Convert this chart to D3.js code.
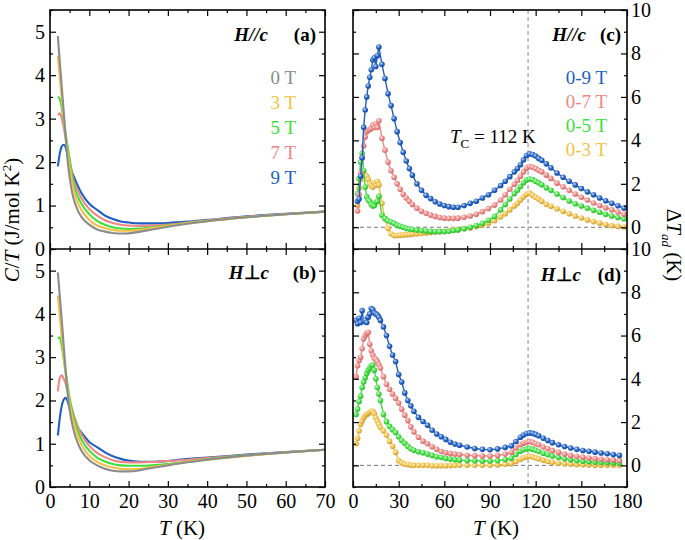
<!DOCTYPE html>
<html><head><meta charset="utf-8">
<script src="https://cdn.jsdelivr.net/npm/d3@7"></script>
<style>body{margin:0;background:#fff}</style>
</head><body><svg id="chart" width="685" height="540"></svg>
<script>
// ---------------- DATA ----------------
const leftFields  = ["0 T", "3 T", "5 T", "7 T", "9 T"];
const rightFields = ["0-9 T", "0-7 T", "0-5 T", "0-3 T"];
const xTicksLeft  = [0, 10, 20, 30, 40, 50, 60, 70];
const yTicksLeft  = [0, 1, 2, 3, 4, 5];
const xTicksRight = [0, 30, 60, 90, 120, 150, 180];
const yTicksRight = [0, 2, 4, 6, 8, 10];
const curieT = 115;

// temperature grid for the C/T curves (K)
const tempL = [2, 2.5, 3, 3.5, 4, 4.5, 5, 5.5, 6, 7, 8, 10, 12, 14, 16, 18, 20, 23, 26, 30, 35, 40, 50, 60, 70];
// (a) H//c  C/T (J/mol K^2)
const a0T = [4.9, 4.3, 3.72, 3.15, 2.55, 2.02, 1.65, 1.36, 1.16, 0.9, 0.74, 0.56, 0.45, 0.40, 0.37, 0.355, 0.36, 0.40, 0.45, 0.51, 0.58, 0.64, 0.73, 0.80, 0.86];
const a3T = [4.45, 3.95, 3.45, 3.0, 2.6, 2.22, 1.9, 1.62, 1.38, 1.08, 0.9, 0.67, 0.54, 0.48, 0.44, 0.42, 0.42, 0.44, 0.48, 0.53, 0.59, 0.64, 0.73, 0.80, 0.86];
const a5T = [3.5, 3.45, 3.25, 2.95, 2.65, 2.35, 2.05, 1.75, 1.5, 1.22, 1.04, 0.8, 0.65, 0.56, 0.5, 0.47, 0.46, 0.47, 0.5, 0.54, 0.6, 0.65, 0.73, 0.80, 0.86];
const a7T = [3.08, 3.12, 3.0, 2.8, 2.55, 2.3, 2.05, 1.8, 1.58, 1.36, 1.17, 0.92, 0.77, 0.66, 0.6, 0.56, 0.54, 0.53, 0.54, 0.56, 0.61, 0.66, 0.74, 0.80, 0.86];
const a9T = [1.9, 2.2, 2.36, 2.4, 2.33, 2.15, 1.95, 1.8, 1.68, 1.47, 1.29, 1.04, 0.9, 0.77, 0.69, 0.635, 0.61, 0.59, 0.59, 0.6, 0.63, 0.67, 0.75, 0.81, 0.86];
// (b) H perp c
const b0T = [4.96, 4.4, 3.85, 3.25, 2.68, 2.15, 1.78, 1.52, 1.32, 1.03, 0.84, 0.62, 0.5, 0.42, 0.375, 0.36, 0.36, 0.39, 0.44, 0.5, 0.57, 0.63, 0.73, 0.80, 0.86];
const b3T = [4.43, 3.95, 3.45, 3.0, 2.6, 2.25, 1.95, 1.7, 1.5, 1.2, 0.98, 0.72, 0.58, 0.5, 0.45, 0.42, 0.41, 0.42, 0.46, 0.51, 0.58, 0.63, 0.72, 0.80, 0.86];
const b5T = [3.43, 3.46, 3.25, 2.95, 2.65, 2.35, 2.05, 1.82, 1.62, 1.32, 1.1, 0.84, 0.68, 0.59, 0.53, 0.5, 0.49, 0.49, 0.5, 0.53, 0.58, 0.64, 0.73, 0.80, 0.86];
const b7T = [2.21, 2.52, 2.58, 2.5, 2.38, 2.2, 2.0, 1.83, 1.68, 1.42, 1.22, 0.95, 0.79, 0.69, 0.62, 0.58, 0.57, 0.57, 0.58, 0.6, 0.63, 0.67, 0.74, 0.80, 0.86];
const b9T = [1.19, 1.6, 1.88, 2.02, 2.06, 1.98, 1.82, 1.66, 1.55, 1.38, 1.26, 1.04, 0.92, 0.8, 0.71, 0.65, 0.61, 0.585, 0.58, 0.6, 0.65, 0.68, 0.75, 0.81, 0.86];

// (c) H//c  Delta T_ad (K)
const tempC = [3,4,5,6,7,8,9,10,11,12,13,14,15,16,17,
  19,21,23,25,27,29,31,33,35,37,39,
  42,45,48,51,54,57,60,63,66,69,
  73,77,81,85,89,93,97,
  100,103,106,
  108,110,112,114,116,118,120,122,124,
  127,130,
  134,138,142,146,150,154,158,162,166,170,174,178];
const c09 = [1.2,1.3,2.35,3.2,4.6,5.4,6.0,6.5,6.9,7.25,7.7,7.8,7.4,7.9,8.3,
  7.5,6.85,6.15,5.6,5.0,4.4,3.9,3.45,3.05,2.7,2.4,
  2.0,1.7,1.47,1.32,1.17,1.07,1.0,0.95,0.92,0.92,
  1.0,1.1,1.2,1.35,1.5,1.7,1.92,
  2.12,2.33,2.55,
  2.7,2.88,3.1,3.3,3.38,3.35,3.28,3.17,3.08,
  2.92,2.74,
  2.5,2.3,2.12,1.95,1.78,1.63,1.5,1.35,1.22,1.1,0.99,0.88];
const c07 = [0.75,1.5,2.5,3.2,3.75,4.15,4.4,4.45,4.5,4.55,4.7,4.6,4.75,4.6,4.9,
  4.1,3.55,3.0,2.6,2.3,2.0,1.75,1.52,1.35,1.2,1.05,
  0.88,0.74,0.64,0.56,0.5,0.45,0.42,0.41,0.41,0.42,
  0.46,0.52,0.6,0.72,0.86,1.02,1.25,
  1.5,1.75,1.98,
  2.15,2.35,2.55,2.72,2.8,2.76,2.7,2.62,2.55,
  2.4,2.25,
  2.03,1.86,1.7,1.53,1.38,1.25,1.12,1.0,0.9,0.8,0.7,0.6];
const c05 = [1.55,2.25,3.0,3.4,2.6,1.85,1.4,1.25,1.2,1.05,0.98,1.0,1.15,1.2,1.42,
  0.55,0.4,0.3,0.24,0.18,0.1,0.05,0.0,-0.05,-0.08,-0.1,
  -0.13,-0.15,-0.17,-0.19,-0.2,-0.2,-0.2,-0.18,-0.15,-0.12,
  -0.07,0.0,0.08,0.18,0.32,0.5,0.8,
  1.05,1.3,1.55,
  1.7,1.88,2.05,2.18,2.22,2.2,2.12,2.05,1.96,
  1.82,1.7,
  1.53,1.37,1.21,1.08,0.98,0.88,0.78,0.69,0.6,0.52,0.45,0.38];
const c03 = [1.0,1.8,2.2,2.38,2.45,2.42,2.35,2.2,2.0,1.9,1.85,2.05,1.95,2.1,1.95,
  1.1,0.4,-0.05,-0.3,-0.38,-0.38,-0.36,-0.35,-0.34,-0.33,-0.32,
  -0.3,-0.28,-0.26,-0.24,-0.22,-0.2,-0.18,-0.15,-0.12,-0.1,
  -0.07,-0.03,0.03,0.1,0.18,0.3,0.48,
  0.62,0.8,0.98,
  1.1,1.25,1.4,1.52,1.57,1.47,1.38,1.3,1.2,
  1.06,0.97,
  0.85,0.74,0.62,0.52,0.43,0.34,0.26,0.19,0.13,0.08,0.04,0.01];

// (d) H perp c
const tempD = [2,3,4,5,6,7,8,9,10,11,12,13,14,15,16,17,18,
  20,22,24,26,28,30,32,34,36,38,40,
  43,46,49,52,55,58,61,64,67,70,
  75,80,85,90,95,100,104,107,
  110,112,114,116,118,120,122,
  125,128,131,135,139,143,147,151,155,159,163,167,171,175];
const d09 = [6.7,6.55,6.8,6.6,7.15,6.65,6.7,6.6,6.85,7.0,7.25,7.2,7.05,7.0,6.95,6.85,6.7,
  6.4,6.0,5.5,5.1,4.8,4.2,3.85,3.35,3.0,2.75,2.5,
  2.22,2.03,1.85,1.62,1.45,1.32,1.2,1.07,0.99,0.93,
  0.85,0.78,0.74,0.72,0.76,0.83,0.9,1.1,
  1.3,1.4,1.47,1.5,1.48,1.43,1.37,
  1.25,1.15,1.05,0.95,0.87,0.8,0.74,0.69,0.65,0.61,0.57,0.54,0.5,0.46];
const d07 = [4.1,4.6,4.85,5.0,5.4,5.85,6.0,6.1,6.15,5.6,5.3,5.1,4.95,4.9,4.8,4.65,4.5,
  4.1,3.75,3.52,3.3,3.1,2.88,2.6,2.32,2.07,1.78,1.55,
  1.3,1.12,1.0,0.86,0.74,0.64,0.58,0.55,0.52,0.5,
  0.47,0.45,0.43,0.43,0.46,0.52,0.6,0.8,
  0.95,1.02,1.07,1.1,1.07,1.0,0.95,
  0.85,0.77,0.68,0.6,0.52,0.46,0.41,0.38,0.34,0.31,0.28,0.26,0.24,0.22];
const d05 = [2.35,2.6,2.95,3.2,3.6,3.85,4.05,4.25,4.4,4.5,4.6,4.65,4.4,4.0,3.6,3.3,3.0,
  2.35,2.02,1.8,1.65,1.52,1.32,1.15,1.02,0.88,0.77,0.7,
  0.63,0.58,0.52,0.46,0.4,0.36,0.32,0.29,0.26,0.24,
  0.22,0.21,0.2,0.2,0.22,0.27,0.33,0.5,
  0.65,0.72,0.76,0.78,0.75,0.7,0.64,
  0.56,0.49,0.43,0.36,0.3,0.26,0.22,0.19,0.17,0.15,0.13,0.12,0.11,0.1];
const d03 = [1.0,1.25,1.6,1.9,2.05,2.2,2.3,2.35,2.4,2.45,2.5,2.5,2.38,2.2,2.05,1.9,1.75,
  1.6,1.4,1.12,0.88,0.6,0.22,0.12,0.06,0.04,0.02,0.0,
  0.0,0.0,0.0,-0.02,-0.02,-0.02,-0.02,-0.01,0.0,0.0,
  0.0,0.0,0.0,0.0,0.02,0.05,0.08,0.18,
  0.28,0.35,0.4,0.42,0.4,0.35,0.3,
  0.24,0.18,0.14,0.1,0.07,0.05,0.04,0.03,0.02,0.01,0.01,0.0,0.0,0.0];

// ---------------- STYLE ----------------
const COL = {gray:"#8c8c8c", yellow:"#f3c144", green:"#3ddf3d", pink:"#f08784", blue:"#1d5fc3"};
const leftColors  = [COL.gray, COL.yellow, COL.green, COL.pink, COL.blue];
const rightColors = [COL.blue, COL.pink, COL.green, COL.yellow];

const svg = d3.select("#chart");
const FONT = "Liberation Serif";
const L = {x0:50, x1:325}, R = {x0:353, x1:627};
const yTop = 10, yMid = 249, yBot = 487;

const xL = d3.scaleLinear().domain([0,70]).range([L.x0, L.x1]);
const xR = d3.scaleLinear().domain([0,180]).range([R.x0, R.x1]);
const yA = d3.scaleLinear().domain([0,5.5]).range([yMid, yTop]);
const yB = d3.scaleLinear().domain([0,5.5]).range([yBot, yMid]);
const yC = d3.scaleLinear().domain([-1,10]).range([yMid, yTop]);
const yD = d3.scaleLinear().domain([-1,10]).range([yBot, yMid]);

const defs = svg.append("defs");
rightColors.forEach((c,i)=>{
  const g = defs.append("radialGradient").attr("id","ball"+i).attr("cx","38%").attr("cy","35%").attr("r","70%");
  g.append("stop").attr("offset","0%").attr("stop-color", d3.interpolateRgb(c,"#ffffff")(0.75));
  g.append("stop").attr("offset","55%").attr("stop-color", c);
  g.append("stop").attr("offset","100%").attr("stop-color", d3.color(c).darker(0.7));
});
[["A",L,yTop,yMid],["B",L,yMid,yBot],["C",R,yTop,yMid],["D",R,yMid,yBot]].forEach(([id,P,t,b])=>{
  defs.append("clipPath").attr("id","clip"+id).append("rect")
    .attr("x",P.x0).attr("y",t).attr("width",P.x1-P.x0).attr("height",b-t);
});

function axes(x, y, P, t, b, xMaj, xMin, yMaj, yMin, showX, yLabelSide){
  const g = svg.append("g");
  const put = (axis, tr) => g.append("g").attr("transform", tr).call(axis)
      .call(s => { s.select(".domain").remove(); s.attr("font-family", FONT).attr("font-size", 20);
                   s.selectAll("text").style("font-family", FONT).attr("fill","#000");
                   s.selectAll("line").attr("stroke","#000").attr("stroke-width",1.2); });
  put(d3.axisBottom(x).tickValues(xMaj).tickSize(-6).tickPadding(7).tickFormat(showX ? d3.format("d") : ""), `translate(0,${b})`);
  put(d3.axisBottom(x).tickValues(xMin).tickSize(-3).tickFormat(""), `translate(0,${b})`);
  put(d3.axisTop(x).tickValues(xMaj).tickSize(-6).tickFormat(""), `translate(0,${t})`);
  put(d3.axisTop(x).tickValues(xMin).tickSize(-3).tickFormat(""), `translate(0,${t})`);
  put(d3.axisLeft(y).tickValues(yMaj).tickSize(-6).tickPadding(5).tickFormat(yLabelSide==="left" ? d3.format("d") : ""), `translate(${P.x0},0)`);
  put(d3.axisLeft(y).tickValues(yMin).tickSize(-3).tickFormat(""), `translate(${P.x0},0)`);
  put(d3.axisRight(y).tickValues(yMaj).tickSize(-6).tickPadding(4).tickFormat(yLabelSide==="right" ? d3.format("d") : ""), `translate(${P.x1},0)`);
  put(d3.axisRight(y).tickValues(yMin).tickSize(-3).tickFormat(""), `translate(${P.x1},0)`);
}

function ctPanel(yS, clipId, series){
  const line = d3.line().x((d,i)=>xL(tempL[i])).y(d=>yS(d)).curve(d3.curveMonotoneX);
  const g = svg.append("g").attr("clip-path",`url(#${clipId})`);
  for (let k = series.length-1; k >= 0; k--) {
    g.append("path").attr("d", line(series[k])).attr("fill","none")
      .attr("stroke", leftColors[k]).attr("stroke-width", 2.1);
  }
}
ctPanel(yA, "clipA", [a0T,a3T,a5T,a7T,a9T]);
ctPanel(yB, "clipB", [b0T,b3T,b5T,b7T,b9T]);

const minorL = d3.range(5,70,10);
const minorLy = [0.5,1.5,2.5,3.5,4.5,5.5];
axes(xL, yA, L, yTop, yMid, xTicksLeft, minorL, yTicksLeft, minorLy, false, "left");
axes(xL, yB, L, yMid, yBot, xTicksLeft, minorL, yTicksLeft, minorLy, true, "left");

function dtPanel(yS, clipId, temps, series, t, b){
  const g = svg.append("g");
  g.append("line").attr("x1",R.x0).attr("x2",R.x1).attr("y1",yS(0)).attr("y2",yS(0))
    .attr("stroke","#777").attr("stroke-width",1).attr("stroke-dasharray","4,3");
  g.append("line").attr("x1",xR(curieT)).attr("x2",xR(curieT)).attr("y1",t).attr("y2",b)
    .attr("stroke","#888").attr("stroke-width",1).attr("stroke-dasharray","4,3");
  const gc = svg.append("g").attr("clip-path",`url(#${clipId})`);
  const line = d3.line().x((d,i)=>xR(temps[i])).y(d=>yS(d));
  for (let k = series.length-1; k >= 0; k--) {
    gc.append("path").attr("d", line(series[k])).attr("fill","none")
      .attr("stroke", rightColors[k]).attr("stroke-width", 1.4);
    gc.selectAll(null).data(series[k]).join("circle")
      .attr("cx",(d,i)=>xR(temps[i])).attr("cy",d=>yS(d)).attr("r",2.8)
      .attr("fill",`url(#ball${k})`);
  }
}
dtPanel(yC, "clipC", tempC, [c09,c07,c05,c03], yTop, yMid);
dtPanel(yD, "clipD", tempD, [d09,d07,d05,d03], yMid, yBot);

const minorR = d3.range(15,180,30);
const minorRy = [-1,1,3,5,7,9];
axes(xR, yC, R, yTop, yMid, xTicksRight, minorR, yTicksRight, minorRy, false, "right");
axes(xR, yD, R, yMid, yBot, xTicksRight, minorR, yTicksRight, minorRy, true, "right");

[[L,yTop,yBot],[R,yTop,yBot]].forEach(([P,t,b])=>{
  svg.append("rect").attr("x",P.x0).attr("y",t).attr("width",P.x1-P.x0).attr("height",b-t)
    .attr("fill","none").attr("stroke","#000").attr("stroke-width",1.6);
  svg.append("line").attr("x1",P.x0).attr("x2",P.x1).attr("y1",yMid).attr("y2",yMid)
    .attr("stroke","#000").attr("stroke-width",1.6);
});

// ---------- texts ----------
function txt(x, y, anchor, size){
  return svg.append("text").attr("x",x).attr("y",y).attr("text-anchor",anchor)
    .attr("font-size",size).style("font-family",FONT).attr("fill","#000");
}
leftFields.forEach((f,i)=>{
  txt(296, 84 + i*25, "end", 19).attr("fill", leftColors[i]).text(f);
});
rightFields.forEach((f,i)=>{
  txt(607, 84 + i*24, "end", 19).attr("fill", rightColors[i]).text(f);
});

function tag(x, y, perp, letterX, letter){
  const t = txt(x, y, "end", 19).attr("font-weight","bold");
  t.append("tspan").attr("font-style","italic").text("H");
  if (perp) t.append("tspan").text("\u22A5"); else t.append("tspan").attr("font-style","italic").text("//");
  t.append("tspan").attr("font-style","italic").text("c");
  txt(letterX, y, "end", 19).attr("font-weight","bold").text(letter);
}
tag(268, 41, false, 316, "(a)");
tag(269, 279, true, 316, "(b)");
tag(586, 41, false, 621, "(c)");
tag(581, 281, true, 621, "(d)");

{
  const t = txt(450, 143, "start", 19);
  t.append("tspan").attr("font-style","italic").text("T");
  t.append("tspan").attr("font-size",13).attr("dy",5).text("C");
  t.append("tspan").attr("dy",-5).text(" = 112 K");
}

[182, 496].forEach(cx=>{
  const t = txt(cx, 535, "middle", 21);
  t.append("tspan").attr("font-style","italic").text("T");
  t.append("tspan").text(" (K)");
});
{
  const t = svg.append("text").attr("transform","translate(19,220) rotate(-90)")
    .attr("text-anchor","middle").attr("font-size",21).style("font-family",FONT);
  t.append("tspan").attr("font-style","italic").text("C");
  t.append("tspan").text("/");
  t.append("tspan").attr("font-style","italic").text("T");
  t.append("tspan").text(" (J/mol K");
  t.append("tspan").attr("font-size",13).attr("dy",-8).text("2");
  t.append("tspan").attr("dy",8).text(")");
}
{
  const t = svg.append("text").attr("transform","translate(667,245) rotate(90)")
    .attr("text-anchor","middle").attr("font-size",21).style("font-family",FONT);
  t.append("tspan").text("\u0394");
  t.append("tspan").attr("font-style","italic").text("T");
  t.append("tspan").attr("font-style","italic").attr("font-size",13).attr("dy",5).text("ad");
  t.append("tspan").attr("dy",-5).text(" (K)");
}
</script></body></html>
